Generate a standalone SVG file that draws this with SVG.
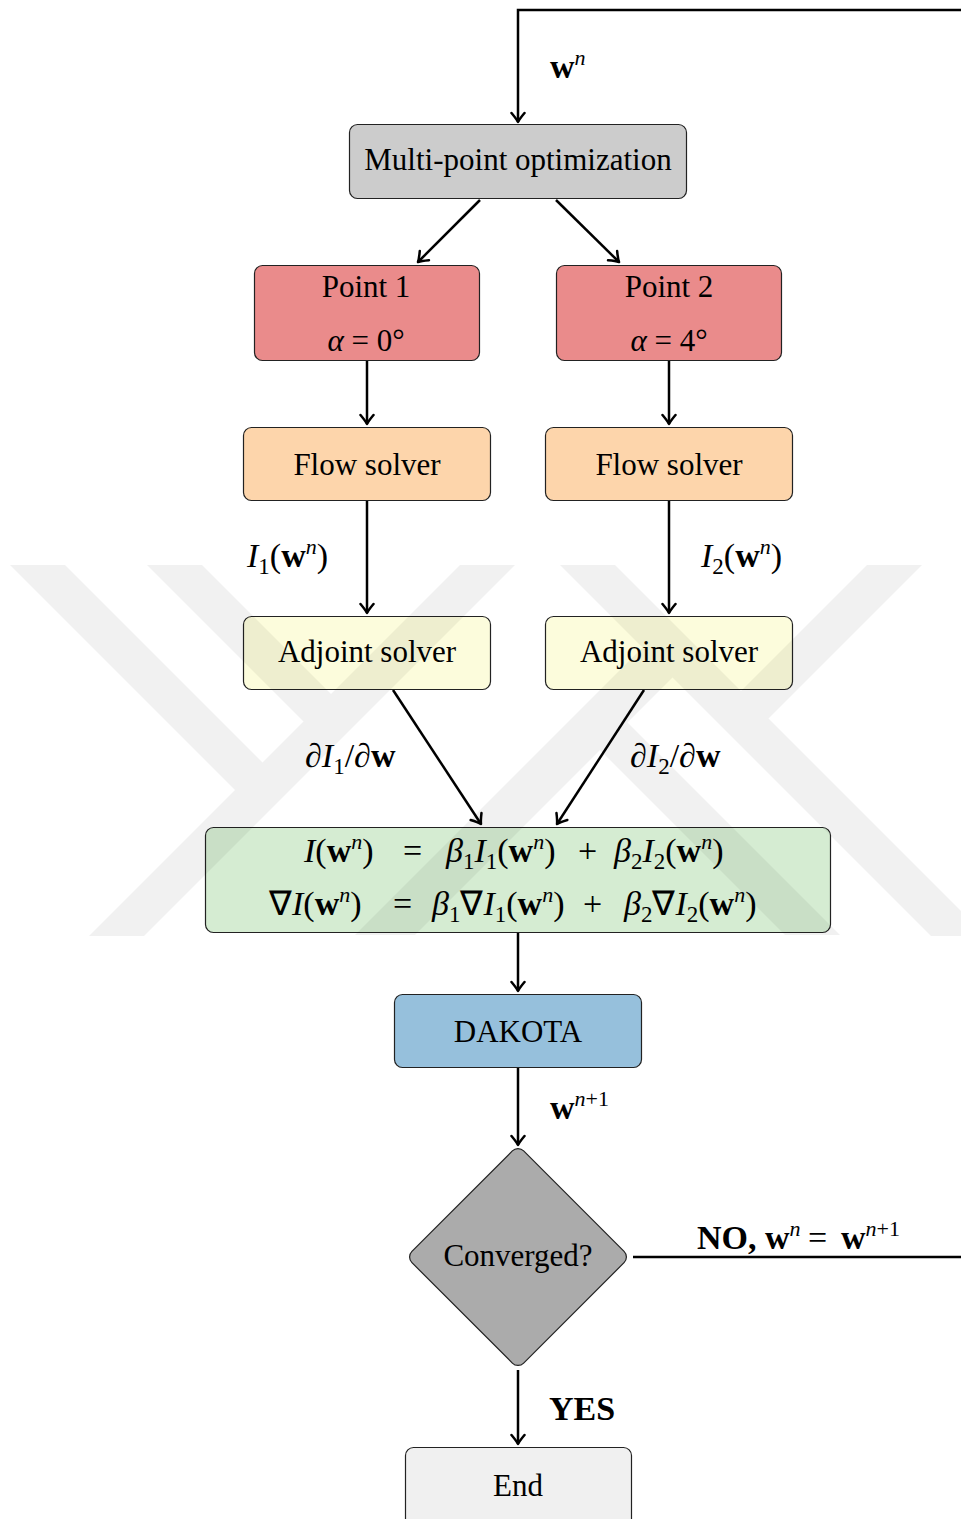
<svg xmlns="http://www.w3.org/2000/svg" width="961" height="1519" viewBox="0 0 961 1519">
  <style>
    .box { stroke: #222; stroke-width: 1.2; }
    .t { font-family: "Liberation Serif", "Times New Roman", serif; font-size: 31px; fill: #000; text-anchor: middle; }
    .m { font-family: "Liberation Serif", "Times New Roman", serif; font-size: 34px; fill: #000; }
    .it { font-style: italic; }
    .bf { font-weight: bold; }
    .sup { font-size: 22px; }
    .sub { font-size: 23px; }
    .edge { stroke: #000; stroke-width: 2.5; fill: none; }
    .arrow { marker-end: url(#tip); }
  </style>
  <defs>
    <marker id="tip" viewBox="-11 -8 13 16" refX="0" refY="0" markerWidth="13" markerHeight="16" orient="auto" markerUnits="userSpaceOnUse">
      <path d="M-9,-6.5 Q-3,-1.5 0,0 Q-3,1.5 -9,6.5" fill="none" stroke="#000" stroke-width="2.5" stroke-linecap="round" stroke-linejoin="round"/>
    </marker>
    <clipPath id="wmClip"><rect x="0" y="565" width="961" height="371"/></clipPath>
  </defs>

  <rect width="961" height="1519" fill="#fff"/>

  <!-- connectors -->
  <g id="connectors">
    <path class="edge arrow" d="M961,10 H518 V122"/>
    <path class="edge arrow" d="M480,200 L418,262"/>
    <path class="edge arrow" d="M556,200 L619,262"/>
    <path class="edge arrow" d="M367,361 V424"/>
    <path class="edge arrow" d="M669,361 V424"/>
    <path class="edge arrow" d="M367,501 V613"/>
    <path class="edge arrow" d="M669,501 V613"/>
    <path class="edge arrow" d="M393,690 L481,824"/>
    <path class="edge arrow" d="M644,690 L557,824"/>
    <path class="edge arrow" d="M518,933 V991"/>
    <path class="edge arrow" d="M518,1068 V1145"/>
    <path class="edge" d="M633,1257 H961"/>
    <path class="edge arrow" d="M518,1370 V1444"/>
  </g>

  <!-- edge labels -->
  <g id="edge-labels">
    <text class="m" x="550" y="78"><tspan class="bf">w</tspan><tspan class="it sup" dy="-13">n</tspan></text>
    <text class="m" x="247" y="567"><tspan class="it">I</tspan><tspan class="sub" dy="7">1</tspan><tspan dy="-7">(</tspan><tspan class="bf">w</tspan><tspan class="it sup" dy="-13">n</tspan><tspan dy="13">)</tspan></text>
    <text class="m" x="701" y="567"><tspan class="it">I</tspan><tspan class="sub" dy="7">2</tspan><tspan dy="-7">(</tspan><tspan class="bf">w</tspan><tspan class="it sup" dy="-13">n</tspan><tspan dy="13">)</tspan></text>
    <text class="m" x="305" y="767"><tspan class="it">∂I</tspan><tspan class="sub" dy="7">1</tspan><tspan dy="-7">/</tspan><tspan class="it">∂</tspan><tspan class="bf">w</tspan></text>
    <text class="m" x="630" y="767"><tspan class="it">∂I</tspan><tspan class="sub" dy="7">2</tspan><tspan dy="-7">/</tspan><tspan class="it">∂</tspan><tspan class="bf">w</tspan></text>
    <text class="m" x="550" y="1119"><tspan class="bf">w</tspan><tspan class="sup" dy="-13"><tspan class="it">n</tspan>+1</tspan></text>
    <text class="m" x="697" y="1249"><tspan class="bf">NO, w</tspan><tspan class="it sup" dy="-13">n</tspan><tspan dy="13" x="808">=</tspan><tspan class="bf" x="841">w</tspan><tspan class="sup" dy="-13"><tspan class="it">n</tspan>+1</tspan></text>
    <text class="m bf" x="549" y="1420" font-size="32">YES</text>
  </g>

  <!-- nodes -->
  <g id="node-multipoint">
    <rect class="box" x="349.5" y="124.5" width="337" height="74" rx="8" fill="#cccccc"/>
    <text class="t" x="518" y="170">Multi-point optimization</text>
  </g>
  <g id="node-point1">
    <rect class="box" x="254.5" y="265.5" width="225" height="95" rx="8" fill="#ea8b8b"/>
    <text class="t" x="366" y="297">Point 1</text>
    <text class="t" x="366" y="351"><tspan class="it">α</tspan> = 0°</text>
  </g>
  <g id="node-point2">
    <rect class="box" x="556.5" y="265.5" width="225" height="95" rx="8" fill="#ea8b8b"/>
    <text class="t" x="669" y="297">Point 2</text>
    <text class="t" x="669" y="351"><tspan class="it">α</tspan> = 4°</text>
  </g>
  <g id="node-flow1">
    <rect class="box" x="243.5" y="427.5" width="247" height="73" rx="8" fill="#fdd5ab"/>
    <text class="t" x="367" y="475">Flow solver</text>
  </g>
  <g id="node-flow2">
    <rect class="box" x="545.5" y="427.5" width="247" height="73" rx="8" fill="#fdd5ab"/>
    <text class="t" x="669" y="475">Flow solver</text>
  </g>
  <g id="node-adjoint1">
    <rect class="box" x="243.5" y="616.5" width="247" height="73" rx="8" fill="#fcfcdc"/>
    <text class="t" x="367" y="662">Adjoint solver</text>
  </g>
  <g id="node-adjoint2">
    <rect class="box" x="545.5" y="616.5" width="247" height="73" rx="8" fill="#fcfcdc"/>
    <text class="t" x="669" y="662">Adjoint solver</text>
  </g>
  <g id="node-combine">
    <rect class="box" x="205.5" y="827.5" width="625" height="105" rx="8" fill="#d5ecd2"/>
    <text class="m" y="862"><tspan x="304" class="it">I</tspan><tspan>(</tspan><tspan class="bf">w</tspan><tspan class="it sup" dy="-13">n</tspan><tspan dy="13">)</tspan><tspan x="403">=</tspan><tspan x="446" class="it">β</tspan><tspan class="sub" dy="7">1</tspan><tspan class="it" dy="-7">I</tspan><tspan class="sub" dy="7">1</tspan><tspan dy="-7">(</tspan><tspan class="bf">w</tspan><tspan class="it sup" dy="-13">n</tspan><tspan dy="13">)</tspan><tspan x="578">+</tspan><tspan x="614" class="it">β</tspan><tspan class="sub" dy="7">2</tspan><tspan class="it" dy="-7">I</tspan><tspan class="sub" dy="7">2</tspan><tspan dy="-7">(</tspan><tspan class="bf">w</tspan><tspan class="it sup" dy="-13">n</tspan><tspan dy="13">)</tspan></text>
    <text class="m" y="915"><tspan x="269">∇</tspan><tspan class="it">I</tspan><tspan>(</tspan><tspan class="bf">w</tspan><tspan class="it sup" dy="-13">n</tspan><tspan dy="13">)</tspan><tspan x="393">=</tspan><tspan x="432" class="it">β</tspan><tspan class="sub" dy="7">1</tspan><tspan dy="-7">∇</tspan><tspan class="it">I</tspan><tspan class="sub" dy="7">1</tspan><tspan dy="-7">(</tspan><tspan class="bf">w</tspan><tspan class="it sup" dy="-13">n</tspan><tspan dy="13">)</tspan><tspan x="583">+</tspan><tspan x="624" class="it">β</tspan><tspan class="sub" dy="7">2</tspan><tspan dy="-7">∇</tspan><tspan class="it">I</tspan><tspan class="sub" dy="7">2</tspan><tspan dy="-7">(</tspan><tspan class="bf">w</tspan><tspan class="it sup" dy="-13">n</tspan><tspan dy="13">)</tspan></text>
  </g>
  <g id="node-dakota">
    <rect class="box" x="394.5" y="994.5" width="247" height="73" rx="8" fill="#96c0dc"/>
    <text class="t" x="518" y="1042">DAKOTA</text>
  </g>
  <g id="node-converged">
    <rect class="box" x="-79" y="-79" width="158" height="158" rx="8" fill="#ababab" transform="translate(518 1257) rotate(45)"/>
    <text class="t" x="518" y="1266">Converged?</text>
  </g>
  <g id="node-end">
    <rect class="box" x="405.5" y="1447.5" width="226" height="90" rx="8" fill="#f0f0f0"/>
    <text class="t" x="518" y="1496">End</text>
  </g>

  <!-- faint background emblem -->
  <g id="watermark" clip-path="url(#wmClip)" fill="#000" fill-opacity="0.055">
    <polygon points="525,500 580,500 80,1000 25,1000"/>
    <polygon points="-55,500 0,500 262.5,762.5 235,790"/>
    <polygon points="82,500 137,500 331,694 303.5,721.5"/>
    <polygon points="495,500 550,500 1050,1000 995,1000"/>
    <polygon points="932,500 987,500 768.5,718.5 741,691"/>
    <polygon points="642.5,647.5 672.5,677.5 415,935 355,935"/>
    <polygon points="600,750 627.5,722.5 840,935 785,935"/>
  </g>
</svg>
